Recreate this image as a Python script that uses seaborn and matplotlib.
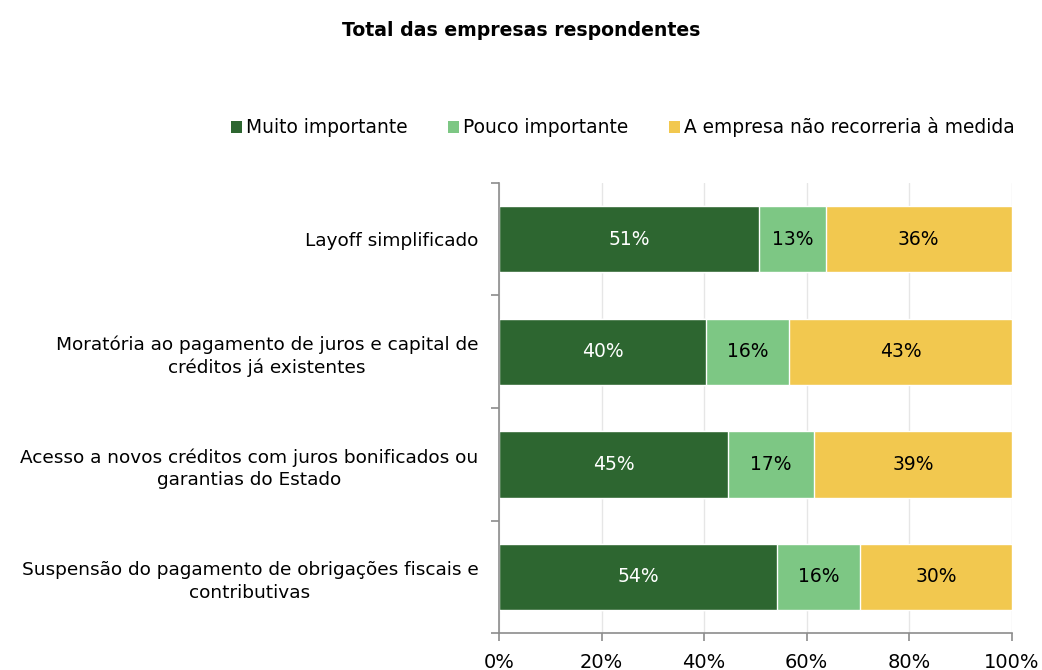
import numpy as np
import pandas as pd
import matplotlib
matplotlib.use("Agg")
import matplotlib.pyplot as plt
import seaborn as sns
from matplotlib.patches import Patch

categories = [
    "Layoff simplificado",
    "Moratória ao pagamento de juros e capital de\ncréditos já existentes",
    "Acesso a novos créditos com juros bonificados ou\ngarantias do Estado",
    "Suspensão do pagamento de obrigações fiscais e\ncontributivas",
]
muito = [50.7, 40.3, 44.6, 54.2]
pouco = [13.0, 16.3, 16.8, 16.2]
nao = [36.3, 43.4, 38.6, 29.6]

series_names = ["Muito importante", "Pouco importante", "A empresa não recorreria à medida"]
colors = ["#2d6630", "#7dc784", "#f2c84f"]
text_colors = ["white", "black", "black"]

sns.set_style("white")
plt.rcParams["font.family"] = ["DejaVu Sans"]

df = pd.DataFrame({"cat": categories, "m": muito, "p": pouco, "n": nao})
df["c1"] = df["m"]
df["c2"] = df["m"] + df["p"]
df["c3"] = df["m"] + df["p"] + df["n"]

fig = plt.figure(figsize=(10.42, 6.70), dpi=100)
ax = fig.add_axes([0.479, 0.055, 0.492, 0.672])

# stacked bars: draw cumulative totals from the back to the front
for col, color in zip(["c3", "c2", "c1"], colors[::-1]):
    sns.barplot(data=df, x=col, y="cat", color=color, width=0.59,
                saturation=1, ax=ax, orient="h", zorder=2)

for i, row in df.iterrows():
    left = 0
    for val, tc in zip([row["m"], row["p"], row["n"]], text_colors):
        ax.text(left + val / 2, i, f"{val:.0f}%", ha="center", va="center",
                color=tc, fontsize=13.5, zorder=3)
        left += val

ax.set_xlim(0, 100)
ax.set_ylim(len(categories) - 0.5, -0.5)
ax.set_xticks(np.arange(0, 101, 20))
ax.set_xticklabels([f"{v}%" for v in range(0, 101, 20)], fontsize=14, color="black")
ax.set_xlabel("")
ax.set_ylabel("")
ax.xaxis.grid(True, color="#e6e6e6", linewidth=1, zorder=0)
ax.set_axisbelow(True)

# category labels without tick marks, boundary ticks as minor ticks
ax.set_yticks(range(len(categories)))
ax.set_yticklabels(categories, fontsize=13.3, ha="right", multialignment="center",
                   color="black", linespacing=1.35)
ax.tick_params(axis="y", which="major", length=0, pad=15)
ax.set_yticks(np.arange(-0.5, len(categories), 1), minor=True)
ax.tick_params(axis="y", which="minor", left=True, length=6, color="#8c8c8c", width=1.2)
ax.tick_params(axis="x", which="major", bottom=True, length=6, color="#8c8c8c",
               width=1.2, pad=8)

for s in ["top", "right"]:
    ax.spines[s].set_visible(False)
for s in ["left", "bottom"]:
    ax.spines[s].set_color("#8c8c8c")
    ax.spines[s].set_linewidth(1.2)

fig.text(0.5, 0.955, "Total das empresas respondentes", ha="center", va="center",
         fontsize=13.6, fontweight="bold", color="black")

handles = [Patch(facecolor=c, edgecolor="none") for c in colors]
fig.legend(handles, series_names, loc="center right", bbox_to_anchor=(0.99, 0.81),
           ncol=3, frameon=False, fontsize=13.4, handlelength=0.6, handleheight=0.6,
           handletextpad=0.2, columnspacing=2.2, labelcolor="black")

fig.savefig("out.png", dpi=100)
